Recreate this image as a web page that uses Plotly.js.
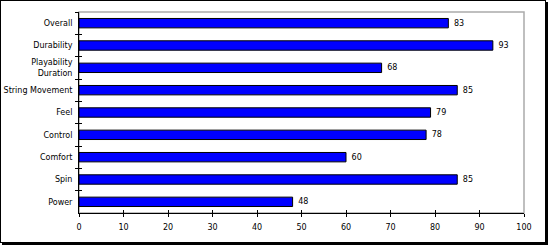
<!DOCTYPE html>
<html>
<head>
<meta charset="utf-8">
<script src="https://cdn.plot.ly/plotly-3.0.1.min.js"></script>
<style>
html,body{margin:0;padding:0;background:#fff;}
#wrap{position:relative;width:550px;height:246px;}
#chart{width:550px;height:246px;}
#frame{position:absolute;left:0;top:0;width:544px;height:241px;border:1px solid #000;box-shadow:2px 2px 0 #000;pointer-events:none;}
</style>
</head>
<body>
<div id="wrap"><div id="chart"></div><div id="frame"></div></div>
<script>
const categories = ["Overall","Durability","Playability<br>Duration","String Movement","Feel","Control","Comfort","Spin","Power"];
const values = [83, 93, 68, 85, 79, 78, 60, 85, 48];
const xTicks = [0,10,20,30,40,50,60,70,80,90,100];

const font = {family: "DejaVu Sans, Verdana, sans-serif", size: 8, color: "#000"};
const boundaries = categories.map((c,i)=>i-0.5).concat([categories.length-0.5]);

const data = [{
  type: "bar",
  orientation: "h",
  y: categories,
  x: values,
  text: values.map(v => "\u00a0" + v),
  textposition: "outside",
  cliponaxis: false,
  textfont: font,
  marker: {color: "#0000FF", line: {color: "#000", width: 1}},
  hoverinfo: "none"
}];

const layout = {
  width: 550, height: 246,
  margin: {l: 79, r: 26, t: 12, b: 33, pad: 0},
  paper_bgcolor: "#fff",
  plot_bgcolor: "#fff",
  showlegend: false,
  bargap: 0.58,
  font: font,
  xaxis: {
    range: [0, 100], tickvals: xTicks, ticktext: xTicks.map(String),
    showgrid: false, zeroline: false,
    showline: true, linecolor: "#000", linewidth: 1,
    ticks: "outside", ticklen: 3, tickcolor: "#000", tickwidth: 1,
    tickfont: font, ticklabelstandoff: 3, fixedrange: true
  },
  xaxis2: {
    overlaying: "x", range: [0, 100], tickvals: xTicks,
    showticklabels: false, showgrid: false, zeroline: false, showline: false,
    ticks: "inside", ticklen: 3, tickcolor: "#000", tickwidth: 1
  },
  yaxis: {
    type: "category", autorange: "reversed",
    showgrid: false, zeroline: false,
    showline: true, linecolor: "#000", linewidth: 1,
    ticks: "outside", tickson: "boundaries", ticklen: 3, tickcolor: "#000", tickwidth: 1,
    tickfont: font, ticklabelstandoff: 4, fixedrange: true
  },
  yaxis2: {
    overlaying: "y", range: [categories.length-0.5, -0.5], tickvals: boundaries,
    showticklabels: false, showgrid: false, zeroline: false, showline: false,
    ticks: "inside", ticklen: 3, tickcolor: "#000", tickwidth: 1
  },
  shapes: [{
    type: "rect", xref: "paper", yref: "paper", x0: 0, x1: 1, y0: 0, y1: 1,
    line: {color: "#aaaaaa", width: 1.5}, fillcolor: "rgba(0,0,0,0)", layer: "below"
  }]
};

// invisible helper trace to activate overlay axes
data.push({type: "scatter", x: [0], y: [0], xaxis: "x2", yaxis: "y2", mode: "markers",
  marker: {opacity: 0}, hoverinfo: "none", showlegend: false});

Plotly.newPlot("chart", data, layout, {displayModeBar: false, staticPlot: true});
</script>
</body>
</html>
